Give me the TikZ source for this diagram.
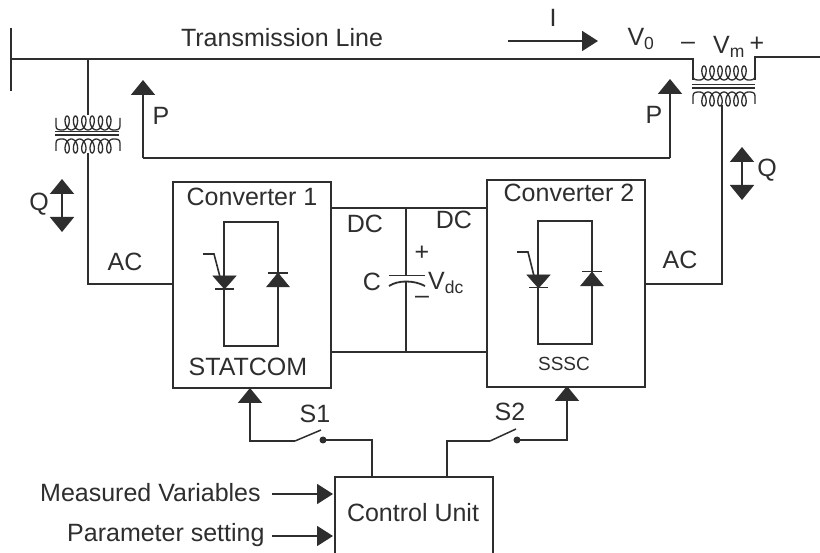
\documentclass[tikz,border=0pt]{standalone}
\usepackage{fontspec}
\setmainfont{Liberation Sans}
\usetikzlibrary{arrows.meta}
\definecolor{ink}{HTML}{2E2E2E}
\newcommand{\coilpath}[4]{% x0, x1, yaxis, dir
  \draw[coil] plot[smooth,samples=130,domain=0:6] ({#1+7+(\x)*(#2-#1-14)/6+4*sin(\x*360)},{#3+(#4)*7*(1-cos(\x*360))});
  \draw[coil] (#1,#3+#4*12) -- (#1,#3+#4*4) .. controls (#1,#3) and (#1+3,#3) .. (#1+7,#3);
  \draw[coil] (#2,#3+#4*12) -- (#2,#3+#4*4) .. controls (#2,#3) and (#2-3,#3) .. (#2-7,#3);
}
\tikzset{
  x=1pt,y=-1pt,
  wire/.style={draw=ink,line width=1.8pt,line join=miter},
  coil/.style={draw=ink,line width=1.3pt},
  arrowed/.style={wire,-{Triangle[length=15pt,width=24pt]}},
  duplex/.style={wire,{Triangle[length=15pt,width=24pt]}-{Triangle[length=15pt,width=24pt]}},
  inarrow/.style={wire,-{Triangle[length=16pt,width=20pt]}},
  box/.style={draw=ink,line width=2pt,fill=none,inner sep=0pt,minimum width=0pt},
  lbl/.style={text=ink,inner sep=0pt,font=\fontsize{25}{29}\selectfont},
  dev/.style={fill=ink,draw=ink,line width=0.5pt},
  dot/.style={circle,fill=ink,inner sep=0pt,minimum size=7pt},
}
\begin{document}
\begin{tikzpicture}
\useasboundingbox (0,0) rectangle (820,553);
\fill[white] (0,0) rectangle (820,553);
% named coordinates
\coordinate (lineL) at (11,59);
\coordinate (barT) at (11,28);
\coordinate (barB) at (11,91);
\coordinate (serL) at (693,59);
\coordinate (serLb) at (693,80);
\coordinate (serR) at (755,57);
\coordinate (serRb) at (755,80);
\coordinate (lineR) at (820,57);
\coordinate (shT) at (88,59);
\coordinate (shCoil) at (88,115);
\coordinate (shLow) at (88,153);
\coordinate (serLow) at (722,105);
% boxes
\node[box,minimum width=158pt,minimum height=206pt,anchor=north west] (conv1) at (172,181) {};
\node[box,minimum width=158pt,minimum height=207pt,anchor=north west] (conv2) at (486,179) {};
\clip (0,0) rectangle (820,553);
\node[box,minimum width=158pt,minimum height=100pt,anchor=north west] (ctrl) at (334,476) {};
% transmission line
\draw[wire,line width=1.5pt] (barT) -- (barB);
\draw[wire] (lineL) -- (serL) -- (serLb);
\draw[wire] (lineR) -- (serR) -- (serRb);
% series transformer
\coilpath{693}{755}{80}{-1}
\draw[coil,line width=1.5pt] (692,84.5) -- (755,84.5) (692,88) -- (755,88);
\coilpath{693}{755}{92}{1}
% shunt transformer
\draw[wire] (shT) -- (shCoil);
\coilpath{56}{120}{130}{-1}
\draw[coil,line width=1.5pt] (55,131.5) -- (119,131.5) (55,135) -- (119,135);
\coilpath{56}{120}{139}{1}
% AC feeders
\draw[wire] (shLow) |- (conv1.west |- 0,284);
\draw[wire] (serLow) |- (conv2.east |- 0,284);
% P arrow
\coordinate (pL) at (143,158);
\coordinate (pR) at (670,158);
\draw[arrowed] (pL) -- (143,80);
\draw[arrowed] (pR) -- (670,79);
\draw[wire] (pL) -- (pR);
% Q arrows
\coordinate (q1a) at (62,179); \coordinate (q1b) at (62,232);
\coordinate (q2a) at (742,147); \coordinate (q2b) at (742,200);
\draw[duplex] (q1a) -- (q1b);
\draw[duplex] (q2a) -- (q2b);
% I arrow
\coordinate (i1) at (508,41); \coordinate (i2) at (598,41);
\draw[inarrow] (i1) -- (i2);
% DC link
\draw[wire] (330,208) -- (486,208);
\draw[wire] (330,352) -- (486,352);
\coordinate (capT) at (406,208);
\coordinate (capB) at (406,352);
\coordinate (capP1) at (406,275);
\coordinate (capP2) at (406,281);
\draw[wire] (capT) -- (capP1);
\draw[wire] (capP2) -- (capB);
\draw[wire] (389,275.5) -- (425,275.5);
\draw[wire] (389,286) .. controls (398,280) and (414,280) .. (425,286);
% converter 1 bridge
\draw[wire] (224,222) rectangle (278,346);
\draw[dev] (213,276) -- (236,276) -- (224.5,289) -- cycle;
\draw[wire] (215,289) -- (234,289);
\draw[wire,line width=1.6pt] (203,254) -- (214,254) -- (220,277);
\draw[dev] (266.5,287) -- (289.5,287) -- (278,273) -- cycle;
\draw[wire] (268,273) -- (288,273);
% converter 2 bridge
\begin{scope}[shift={(314,-1)}]
\draw[wire] (224,222) rectangle (278,345);
\draw[dev] (213,276) -- (236,276) -- (224.5,289) -- cycle;
\draw[wire] (215,288.5) -- (234,288.5);
\draw[wire,line width=1.6pt] (203,253) -- (214,253) -- (220,277);
\draw[dev] (266.5,287) -- (289.5,287) -- (278,273) -- cycle;
\draw[wire] (268,272.5) -- (288,272.5);
\end{scope}
% switches
\node[dot] (s1dot) at (323,440) {};
\node[dot] (s2dot) at (517,440) {};
\coordinate (s1a) at (295,441); \coordinate (s1b) at (321,430);
\coordinate (s2a) at (490,441); \coordinate (s2b) at (516,429);
\draw[wire,line width=1.5pt] (s1a) -- (s1b);
\draw[wire,line width=1.5pt] (s2a) -- (s2b);
\draw[wire] (372,476) -- (372,440) -- (s1dot.center);
\draw[wire] (447,476) -- (447,441) -- (s2a);
\draw[arrowed] (s1a) -- (250,441) -- (250,388);
\draw[arrowed] (s2dot.center) -- (567,440) -- (567,386);
% inputs
\coordinate (m1) at (272,494); \coordinate (m2) at (333,494);
\coordinate (p1) at (272,536); \coordinate (p2) at (333,536);
\draw[inarrow] (m1) -- (m2);
\draw[inarrow] (p1) -- (p2);
% labels
\node[lbl] (tl) at (282,38) {Transmission Line};
\node[lbl] (ilab) at (553,18) {I};
\node[lbl] (v0) at (641,39) {V$_{\mathrm{0}}$};
\node[lbl] (vm) at (729,47) {V$_{\mathrm{m}}$};
\node[lbl] (vminus) at (688,46) {–};
\node[lbl] (vplus) at (757,44) {+};
\node[lbl] (pa) at (161,116) {P};
\node[lbl] (pb) at (654,115) {P};
\node[lbl] (qa) at (39,204) {Q};
\node[lbl] (qb) at (767,170) {Q};
\node[lbl] (ac1) at (125,262) {AC};
\node[lbl] (ac2) at (680,260) {AC};
\node[lbl] (c1) at (252,197) {Converter 1};
\node[lbl] (c2) at (569,193) {Converter 2};
\node[lbl] (st) at (248,367) {STATCOM};
\node[lbl,font=\fontsize{19}{22}\selectfont] (ss) at (564,364) {SSSC};
\node[lbl] (dc1) at (365,224) {DC};
\node[lbl] (dc2) at (454,220) {DC};
\node[lbl] (cl) at (372,282) {C};
\node[lbl] (vd) at (446,283) {V$_{\mathrm{dc}}$};
\node[lbl] (pl) at (422,253) {+};
\node[lbl] (mi) at (422,300) {–};
\node[lbl] (s1) at (315,414) {S1};
\node[lbl] (s2) at (510,412) {S2};
\node[lbl] (cu) at (413,513) {Control Unit};
\node[lbl,anchor=west] (mv) at (40,493) {Measured Variables};
\node[lbl,anchor=west] (ps) at (67,535) {Parameter setting};
\end{tikzpicture}
\end{document}
